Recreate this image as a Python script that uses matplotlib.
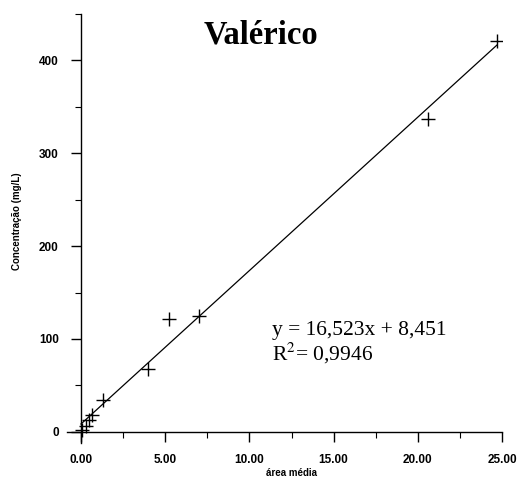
import numpy as np
import matplotlib
matplotlib.use('Agg')
import matplotlib.pyplot as plt
from matplotlib.ticker import MultipleLocator, FormatStrFormatter

# calibration points (mean area vs concentration)
area = [0.05, 0.3, 0.5, 0.65, 1.3, 4.0, 5.2, 7.0, 20.6, 24.7]
conc = [2, 6, 13, 18, 34, 68, 121, 125, 337, 421]

slope = 16.523
intercept = 8.451
r2 = 0.9946

fig = plt.figure(figsize=(5.21, 4.79), dpi=100)
ax = fig.add_axes([0.1286, 0.0752, 0.835, 0.8956])

xfit = np.array([0.0, max(area)])
ax.plot(xfit, slope * xfit + intercept, color='black', lw=0.9)
ax.plot(area, conc, ls='none', marker='+', ms=10, mew=1.0, color='black')

ax.set_xlim(-0.83, 25.0)
ax.set_ylim(-12, 450)

for s in ['top', 'right']:
    ax.spines[s].set_visible(False)
ax.spines['left'].set_position(('data', 0))
ax.spines['bottom'].set_position(('data', 0))
ax.spines['left'].set_linewidth(1.0)
ax.spines['bottom'].set_linewidth(1.0)

ax.xaxis.set_major_locator(MultipleLocator(5))
ax.xaxis.set_minor_locator(MultipleLocator(2.5))
ax.xaxis.set_major_formatter(FormatStrFormatter('%.2f'))
ax.yaxis.set_major_locator(MultipleLocator(100))
ax.yaxis.set_minor_locator(MultipleLocator(50))

ax.tick_params(which='major', direction='out', length=7, width=1.0,
               labelsize=8.5, pad=9)
ax.tick_params(which='minor', direction='out', length=4, width=0.8)
for lab in ax.get_xticklabels() + ax.get_yticklabels():
    lab.set_fontfamily('Liberation Sans')
    lab.set_fontweight('bold')

fig.text(0.033, 0.539, 'Concentração (mg/L)', rotation=90, fontsize=7,
         fontweight='bold', family='Liberation Sans', ha='center', va='center')
fig.text(0.559, 0.0125, 'área média', fontsize=7, fontweight='bold',
         family='Liberation Sans', ha='center', va='center')

fig.text(0.501, 0.927, 'Valérico', fontsize=23.5, fontweight='bold',
         family='Liberation Serif', ha='center', va='center')

ax.text(0.471, 0.252, 'y = 16,523x + 8,451', transform=ax.transAxes,
        fontsize=15.5, family='Liberation Serif', ha='left', va='baseline')
ax.text(0.471, 0.193, 'R$^2$= 0,9946', transform=ax.transAxes,
        fontsize=15.5, family='Liberation Serif', ha='left', va='baseline',
        math_fontfamily='stix')

fig.savefig('out.png', dpi=100)
